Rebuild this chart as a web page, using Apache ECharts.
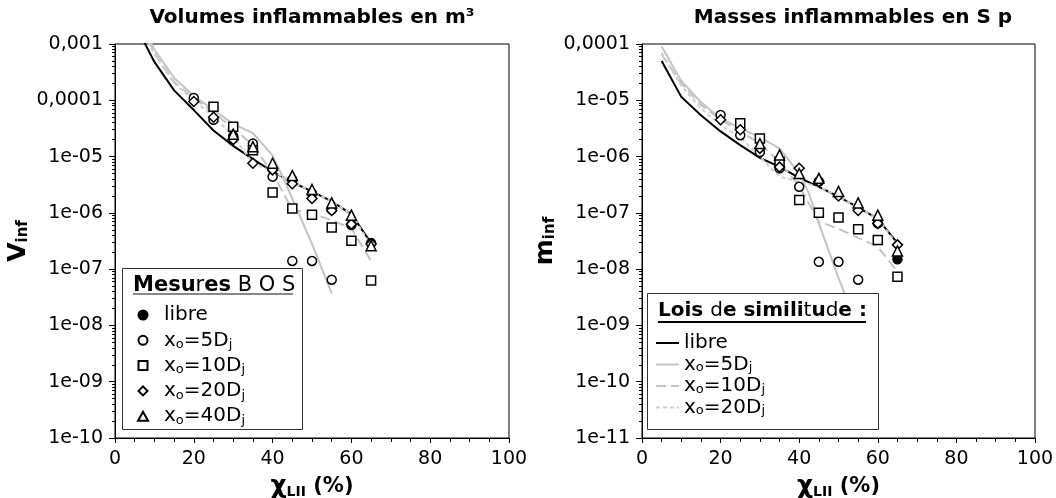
<!DOCTYPE html>
<html><head><meta charset="utf-8">
<script src="https://cdn.jsdelivr.net/npm/echarts@6/dist/echarts.min.js"></script>
<style>html,body{margin:0;padding:0;background:#fff}#c{width:1056px;height:498px}</style>
</head><body><div id="c"></div>
<script>
// ---------------- DATA ----------------
const xMeas = [20, 25, 30, 35, 40, 45, 50, 55, 60, 65];
const xTickLabels = ['0', '20', '40', '60', '80', '100'];
const volTickLabels = ['1e-10', '1e-09', '1e-08', '1e-07', '1e-06', '1e-05', '0,0001', '0,001'];
const masTickLabels = ['1e-11', '1e-10', '1e-09', '1e-08', '1e-07', '1e-06', '1e-05', '0,0001'];

// Left: volumes (m3) - measurements BOS
const volLibre = [null, null, 2.3e-5, null, 6.0e-6, 3.9e-6, 2.2e-6, 1.15e-6, 6.1e-7, 2.9e-7];
const volX5    = [1.1e-4, 4.5e-5, 2.2e-5, 1.7e-5, 4.4e-6, 1.4e-7, 1.4e-7, 6.5e-8, null, null];
const volX10   = [null, 7.7e-5, 3.4e-5, 1.3e-5, 2.3e-6, 1.2e-6, 9.3e-7, 5.5e-7, 3.2e-7, 6.3e-8];
const volX20   = [9.5e-5, 5.0e-5, 2.0e-5, 7.6e-6, 5.8e-6, 3.3e-6, 1.8e-6, 1.1e-6, 6.3e-7, 2.8e-7];
const volX40   = [null, null, 2.5e-5, 1.5e-5, 7.6e-6, 4.6e-6, 2.6e-6, 1.5e-6, 9.1e-7, 2.6e-7];
// Left: similitude laws
const lawVolLibre = [[5,2.3e-3],[10,4.8e-4],[15,1.5e-4],[20,6.7e-5],[25,2.9e-5],[30,1.55e-5],[35,9e-6],[40,5.4e-6],[45,3.5e-6],[50,2.4e-6],[55,1.6e-6],[60,9.5e-7],[65,2.9e-7]];
const lawVolX5 = [[5,4e-3],[10,8e-4],[15,2.5e-4],[20,1.2e-4],[25,6.7e-5],[30,3.8e-5],[35,2.6e-5],[40,1.05e-5],[42.5,4.5e-6],[45,1.8e-6],[50,2.8e-7],[55,3.7e-8]];
const lawVolX10 = [[5,3.5e-3],[10,7e-4],[15,2.1e-4],[20,1.1e-4],[25,6e-5],[30,3.2e-5],[35,1.6e-5],[40,5e-6],[45,1.15e-6],[50,9.8e-7],[55,7.4e-7],[60,5.3e-7],[65,1.4e-7]];
const lawVolX20 = [[5,3e-3],[10,6.5e-4],[15,2e-4],[20,1e-4],[25,5.2e-5],[30,2.3e-5],[35,7.6e-6],[40,5.5e-6],[45,3.5e-6],[50,2.4e-6],[55,1.6e-6],[60,9.5e-7],[65,2.6e-7]];

// Right: masses - measurements BOS
const masLibre = [null, null, null, null, null, 3.6e-7, null, null, 6.5e-8, 1.5e-8];
const masX5    = [5.5e-6, 2.4e-6, 1.2e-6, 6.2e-7, 2.9e-7, 1.35e-8, 1.35e-8, 6.5e-9, null, null];
const masX10   = [null, 3.9e-6, 2.1e-6, 8.1e-7, 1.7e-7, 1.0e-7, 8.3e-8, 5.1e-8, 3.3e-8, 7.3e-9];
const masX20   = [4.5e-6, 3.0e-6, 1.4e-6, 6.5e-7, 6.2e-7, 3.6e-7, 2.0e-7, 1.1e-7, 6.5e-8, 2.7e-8];
const masX40   = [null, null, 1.7e-6, 1.07e-6, 5.0e-7, 4.1e-7, 2.4e-7, 1.5e-7, 9.1e-8, 2.1e-8];
// Right: similitude laws
const lawMasLibre = [[5,5e-5],[10,1.15e-5],[15,5.4e-6],[20,2.8e-6],[25,1.6e-6],[30,9.5e-7],[35,6.6e-7],[40,4.2e-7],[45,2.9e-7],[50,1.95e-7],[55,1.25e-7],[60,7.8e-8],[65,2.9e-8]];
const lawMasX5 = [[5,9e-5],[10,2.2e-5],[15,9.3e-6],[20,4.7e-6],[25,3.2e-6],[30,2.2e-6],[35,1.4e-6],[40,5e-7],[42.5,2.2e-7],[45,6.5e-8],[50,7e-9],[55,9e-10]];
const lawMasX10 = [[5,6.5e-5],[10,2e-5],[15,8.3e-6],[20,4.5e-6],[25,2.8e-6],[30,1.7e-6],[35,8e-7],[40,3e-7],[45,7e-8],[50,5.2e-8],[55,3.6e-8],[60,2.5e-8],[65,9e-9]];
const lawMasX20 = [[5,7e-5],[10,1.8e-5],[15,7.2e-6],[20,3.6e-6],[25,2.2e-6],[30,1e-6],[35,4.4e-7],[40,3.6e-7],[45,2.9e-7],[50,1.95e-7],[55,1.25e-7],[60,7.8e-8],[65,2.7e-8]];

// ---------------- STYLE / BUILD ----------------
const FONT = 'DejaVu Sans';
const GRAY = '#c4c4c4';
const legendLabels = {
  m_libre: 'libre', m_x5: '{n|x}{s|o}{n|=5D}{s|j}', m_x10: '{n|x}{s|o}{n|=10D}{s|j}',
  m_x20: '{n|x}{s|o}{n|=20D}{s|j}', m_x40: '{n|x}{s|o}{n|=40D}{s|j}',
  l_libre: 'libre', l_x5: '{n|x}{s|o}{n|=5D}{s|j}', l_x10: '{n|x}{s|o}{n|=10D}{s|j}', l_x20: '{n|x}{s|o}{n|=20D}{s|j}'
};
function richLeg(lh) {
  return {
    n: {fontSize: 20, fontFamily: FONT, color: '#000', lineHeight: lh},
    s: {fontSize: 13, fontFamily: FONT, color: '#000', lineHeight: 15, verticalAlign: 'bottom'}
  };
}

function pairs(vals) { return xMeas.map((x, i) => [x, vals[i]]).filter(p => p[1] != null); }
function minorVals(lo, hi) { const a = []; for (let n = lo; n < hi; n++) for (let k = 2; k <= 9; k++) a.push(n + Math.log10(k)); return a; }

const markerDefs = [
  {key: 'libre', symbol: 'circle', size: 9, fill: '#000', icon: 'circle'},
  {key: 'x5', symbol: 'circle', size: 9, fill: '#fff', icon: 'circle'},
  {key: 'x10', symbol: 'rect', size: 9, fill: '#fff', icon: 'path://M0 0H10V10H0Z'},
  {key: 'x20', symbol: 'diamond', size: 10, fill: '#fff', icon: 'path://M5 0L10 5L5 10L0 5Z'},
  {key: 'x40', symbol: 'triangle', size: 10, fill: '#fff', icon: 'path://M5 0L10 9L0 9Z'}
];
const lawDefs = [
  {key: 'libre', color: '#000', type: 'solid'},
  {key: 'x5', color: GRAY, type: 'solid'},
  {key: 'x10', color: GRAY, type: [10, 5]},
  {key: 'x20', color: '#cfcfcf', type: [4, 3]}
];

function buildSeries(g, laws, meas, measPrefix, lawPrefix) {
  const out = [];
  lawDefs.forEach((d, i) => out.push({
    type: 'line', name: lawPrefix + d.key, xAxisIndex: g, yAxisIndex: g * 2,
    data: laws[i], symbol: 'none', smooth: false,
    lineStyle: {color: d.color, width: 2, type: d.type}, itemStyle: {color: d.color}, z: 2, silent: true
  }));
  markerDefs.forEach((d, i) => out.push({
    type: 'scatter', name: measPrefix + d.key, xAxisIndex: g, yAxisIndex: g * 2,
    data: pairs(meas[i]), symbol: d.symbol, symbolSize: d.size,
    itemStyle: {color: d.fill, borderColor: '#000', borderWidth: 1.5, opacity: 1}, z: 3, silent: true
  }));
  return out;
}

const grids = [
  {left: 115, top: 44, width: 394, height: 394},
  {left: 642, top: 44, width: 393, height: 394}
];

function xAxisDef(g) {
  return {
    type: 'value', gridIndex: g, min: 0, max: 100, interval: 20,
    axisLine: {lineStyle: {color: '#000', width: 1}},
    axisTick: {inside: false, length: 5, lineStyle: {color: '#000'}},
    minorTick: {show: true, splitNumber: 4, length: 4, lineStyle: {color: '#000'}},
    splitLine: {show: false},
    axisLabel: {fontFamily: FONT, fontSize: 19, color: '#000', margin: 12,
      formatter: v => xTickLabels[Math.round(v / 20)]},
    name: '{a|χ}{b|LII}{c| (%)}', nameLocation: 'middle', nameGap: 34,
    nameTextStyle: {rich: {
      a: {fontFamily: FONT, fontWeight: 'bold', fontSize: 25, color: '#000', lineHeight: 26},
      b: {fontFamily: FONT, fontWeight: 'bold', fontSize: 14, color: '#000', lineHeight: 18, verticalAlign: 'bottom'},
      c: {fontFamily: FONT, fontWeight: 'bold', fontSize: 21, color: '#000', lineHeight: 26}
    }}
  };
}
function yAxisDef(g, minExp, maxExp, labels, nameMain) {
  return [{
    type: 'log', logBase: 10, gridIndex: g, min: Math.pow(10, minExp), max: Math.pow(10, maxExp), splitNumber: 7,
    position: 'left',
    axisLine: {lineStyle: {color: '#000', width: 1}},
    axisTick: {inside: false, length: 6, lineStyle: {color: '#000'}},
    splitLine: {show: false},
    axisLabel: {fontFamily: FONT, fontSize: 19, color: '#000', margin: 12,
      formatter: v => labels[Math.round(Math.log10(v)) - minExp]},
    name: '{a|' + nameMain + '}{b|inf}', nameLocation: 'middle', nameRotate: 90, nameGap: 84,
    nameTextStyle: {rich: {
      a: {fontFamily: FONT, fontWeight: 'bold', fontSize: 25, color: '#000', lineHeight: 26},
      b: {fontFamily: FONT, fontWeight: 'bold', fontSize: 15, color: '#000', lineHeight: 18, verticalAlign: 'bottom'}
    }}
  }, {
    type: 'value', gridIndex: g, min: minExp, max: maxExp, position: 'left',
    axisLine: {show: false}, axisLabel: {show: false}, splitLine: {show: false},
    axisTick: {show: true, inside: false, length: 3, lineStyle: {color: '#000'}, customValues: minorVals(minExp, maxExp)}
  }];
}

const option = {
  backgroundColor: '#fff',
  animation: false,
  textStyle: {fontFamily: FONT},
  title: [
    {text: 'Volumes inflammables en m³', left: 312, textAlign: 'center', top: 8, padding: 0,
     textStyle: {fontFamily: FONT, fontWeight: 'bold', fontSize: 20, color: '#000'}},
    {text: '{b|Masses inflammables en }{n|S p}', left: 853, textAlign: 'center', top: 8, padding: 0,
     textStyle: {rich: {
       b: {fontFamily: FONT, fontWeight: 'bold', fontSize: 20, color: '#000'},
       n: {fontFamily: FONT, fontSize: 20, color: '#000'}
     }}}
  ],
  grid: grids.map(g => Object.assign({show: true, borderColor: '#000', borderWidth: 1, backgroundColor: 'transparent',
    containLabel: false, outerBoundsMode: 'none'}, g)),
  xAxis: [xAxisDef(0), xAxisDef(1)],
  yAxis: [].concat(yAxisDef(0, -10, -3, volTickLabels, 'V'), yAxisDef(1, -11, -4, masTickLabels, 'm')),
  legend: [
    {orient: 'vertical', left: 137, top: 304, padding: 0, itemGap: 3.3, itemWidth: 32, itemHeight: 9,
     data: markerDefs.map(d => ({name: 'm_' + d.key, icon: d.icon})), formatter: n => legendLabels[n],
     textStyle: {fontFamily: FONT, fontSize: 20, color: '#000', lineHeight: 22, rich: richLeg(22)},
     selectedMode: false, z: 10},
    {orient: 'vertical', left: 655, top: 333, padding: 0, itemGap: 1.5, itemWidth: 23, itemHeight: 1,
     data: ['l_libre', 'l_x5', 'l_x10', 'l_x20'], formatter: n => legendLabels[n],
     textStyle: {fontFamily: FONT, fontSize: 20, color: '#000', lineHeight: 20, rich: richLeg(20)},
     selectedMode: false, z: 10}
  ],
  graphic: [
    {type: 'rect', shape: {x: 122.5, y: 268.5, width: 180, height: 161}, style: {fill: '#fff', stroke: '#333', lineWidth: 1}, z: 8, silent: true},
    {type: 'text', x: 133, y: 286, style: {
      text: '{b|Mesu}{n|r}{b|es}{n| B O S}', verticalAlign: 'middle',
      rich: {b: {fontFamily: FONT, fontWeight: 'bold', fontSize: 21, fill: '#000'}, n: {fontFamily: FONT, fontSize: 21, fill: '#000'}}
    }, z: 11, silent: true},
    {type: 'line', shape: {x1: 133, y1: 294, x2: 293, y2: 294}, style: {stroke: '#888', lineWidth: 2}, z: 11, silent: true},
    {type: 'rect', shape: {x: 647.5, y: 293.5, width: 231, height: 136}, style: {fill: '#fff', stroke: '#333', lineWidth: 1}, z: 8, silent: true},
    {type: 'text', x: 658, y: 311, style: {
      text: '{b|Lois }{n|d}{b|e simili}{n|t}{b|u}{n|d}{b|e :}', verticalAlign: 'middle',
      rich: {b: {fontFamily: FONT, fontWeight: 'bold', fontSize: 20, fill: '#000'}, n: {fontFamily: FONT, fontSize: 20, fill: '#000'}}
    }, z: 11, silent: true},
    {type: 'line', shape: {x1: 658, y1: 322, x2: 866, y2: 322}, style: {stroke: '#000', lineWidth: 2}, z: 11, silent: true}
  ],
  series: [].concat(
    buildSeries(0, [lawVolLibre, lawVolX5, lawVolX10, lawVolX20], [volLibre, volX5, volX10, volX20, volX40], 'm_', 'lv_'),
    buildSeries(1, [lawMasLibre, lawMasX5, lawMasX10, lawMasX20], [masLibre, masX5, masX10, masX20, masX40], 'ms_', 'l_')
  )
};
const chart = echarts.init(document.getElementById('c'), null, {renderer: 'canvas'});
chart.setOption(option);
</script></body></html>
